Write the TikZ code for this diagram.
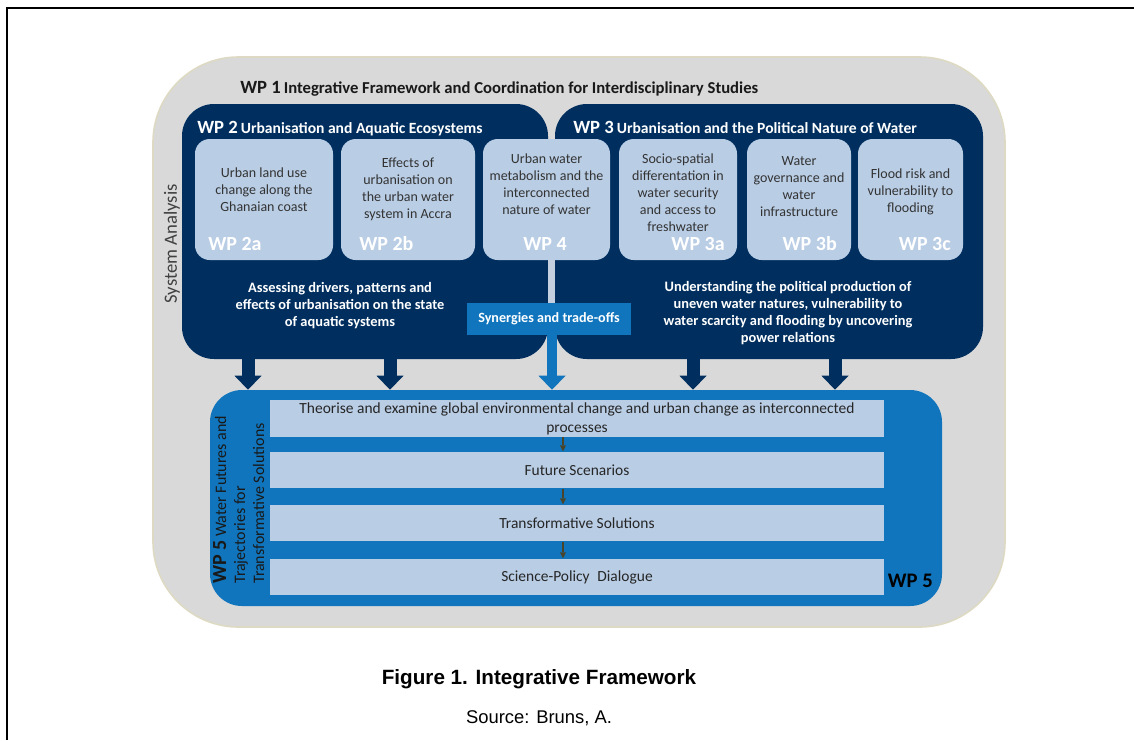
\documentclass[tikz,border=0pt]{standalone}
\usepackage{fontspec}
\setmainfont{Carlito}
\newfontfamily\capfont{Liberation Sans}
\usetikzlibrary{arrows.meta}
\definecolor{wpnavy}{HTML}{002F5F}
\definecolor{wpblue}{HTML}{1075BD}
\definecolor{wplight}{HTML}{B9CDE5}
\definecolor{wpgray}{HTML}{D9D9D9}
\definecolor{wpbeige}{HTML}{DDD9C3}
\definecolor{wpolive}{HTML}{4A452A}
\definecolor{wplink}{HTML}{C4D0E0}
\tikzset{
  wpframe/.style={rectangle,rounded corners=24pt,fill=wpnavy,inner sep=0pt},
  subbox/.style={rectangle,rounded corners=11pt,fill=wplight,inner sep=0pt,minimum height=90.75pt},
  boxtext/.style={align=center,text=black!80,inner sep=0pt,font=\fontsize{10.5}{12.75}\selectfont},
  wplabel/.style={text=white,inner sep=0pt,font=\fontsize{15}{17}\selectfont\bfseries},
  wptitle/.style={inner sep=0pt,anchor=base west},
  goaltext/.style={align=center,text=white,inner sep=0pt,font=\fontsize{10.8}{12.75}\selectfont\bfseries},
  rowbox/.style={rectangle,fill=wplight,inner sep=0pt,minimum width=460.5pt,minimum height=27.5pt,align=center,text=black!85,font=\fontsize{11.6}{14.25}\selectfont},
  bigarrow/.style={draw=wpnavy,line width=9.75pt,-{Triangle[width=20.25pt,length=10.5pt,line width=0pt]}},
  smallarrow/.style={draw=wpolive,line width=1.1pt,-{Triangle[width=4.5pt,length=4.5pt,line width=0pt]}}
}
\begin{document}
\begin{tikzpicture}[x=0.75pt,y=-0.75pt]
  \useasboundingbox (0,0) rectangle (1134,740);
  \draw[line width=1.5pt] (7,740) -- (7,8) -- (1134,8);
  \node[rectangle,rounded corners=64pt,fill=wpgray,draw=wpbeige,line width=1.2pt,minimum width=639pt,minimum height=427.5pt] (wp1) at (579,342) {};
  \node[wptitle,text=black!90] at (240,93) {{\fontsize{14}{16}\selectfont\bfseries WP 1} {\fontsize{12.5}{14}\selectfont\bfseries Integrative Framework and Coordination for Interdisciplinary Studies}};
  \node[rotate=90,text=black!75,font=\fontsize{14}{16}\selectfont] (sysan) at (172,244) {System Analysis};
  \node[wpframe,minimum width=274.5pt,minimum height=191.25pt] (wp2) at (365,231.5) {};
  \node[wpframe,minimum width=321pt,minimum height=191.25pt] (wp3) at (769,231.5) {};
  \node[wptitle,text=white] at (197,133) {{\fontsize{14}{16}\selectfont\bfseries WP 2} {\fontsize{11.7}{13}\selectfont\bfseries Urbanisation and Aquatic Ecosystems}};
  \node[wptitle,text=white] at (573,133) {{\fontsize{14}{16}\selectfont\bfseries WP 3} {\fontsize{11.7}{13}\selectfont\bfseries Urbanisation and the Political Nature of Water}};
  \node[subbox,minimum width=103.5pt] (wp2a) at (264,199.5) {};
  \node[subbox,minimum width=100.5pt] (wp2b) at (408,199.5) {};
  \node[subbox,minimum width=95.25pt] (wp4) at (546.5,199.5) {};
  \node[subbox,minimum width=88.5pt] (wp3a) at (678,199.5) {};
  \node[subbox,minimum width=78pt] (wp3b) at (799,199.5) {};
  \node[subbox,minimum width=78.75pt] (wp3c) at (910.5,199.5) {};
  \node[boxtext] at (264,190) {Urban land use\\change along the\\Ghanaian coast};
  \node[boxtext] at (408,189) {Effects of\\urbanisation on\\the urban water\\system in Accra};
  \node[boxtext] at (546.5,184) {Urban water\\metabolism and the\\interconnected\\nature of water};
  \node[boxtext] at (678,193) {Socio-spatial\\differentation in\\water security\\and access to\\freshwater};
  \node[boxtext] at (799,186.5) {Water\\governance and\\water\\infrastructure};
  \node[boxtext] at (910.5,192) {Flood risk and\\vulnerability to\\flooding};
  \node[wplabel,anchor=base west] at (208,250) {WP 2a};
  \node[wplabel,anchor=base west] at (359,250) {WP 2b};
  \node[wplabel,anchor=base east] at (567,250) {WP 4};
  \node[wplabel,anchor=base east] at (725,250) {WP 3a};
  \node[wplabel,anchor=base east] at (837,250) {WP 3b};
  \node[wplabel,anchor=base east] at (951,250) {WP 3c};
  \node[goaltext] at (340,306) {Assessing drivers, patterns and\\effects of urbanisation on the state\\of aquatic systems};
  \node[goaltext] at (788,313) {Understanding the political production of\\uneven water natures, vulnerability to\\water scarcity and flooding by uncovering\\power relations};
  \node[rectangle,fill=wpblue,inner sep=0pt,minimum width=123pt,minimum height=24pt,text=white,font=\fontsize{10.6}{12.75}\selectfont\bfseries] (syn) at (549,319) {Synergies and trade-offs};
  \draw[draw=wplink,line width=5.25pt] (551,0 |- wp4.south) -- (551,0 |- syn.north);
  \node[rectangle,rounded corners=24pt,fill=wpblue,inner sep=0pt,minimum width=549pt,minimum height=162pt] (wp5) at (576,498) {};
  \draw[bigarrow] (248,0 |- wp2.south) -- (248,0 |- wp5.north);
  \draw[bigarrow] (390,0 |- wp2.south) -- (390,0 |- wp5.north);
  \draw[bigarrow] (693,0 |- wp3.south) -- (693,0 |- wp5.north);
  \draw[bigarrow] (835,0 |- wp3.south) -- (835,0 |- wp5.north);
  \draw[bigarrow,draw=wpblue,line width=7.5pt] (552,0 |- syn.south) -- (552,0 |- wp5.north);
  \node[rowbox] (theory) at (577,418.5) {Theorise and examine global environmental change and urban change as interconnected\\processes};
  \node[rowbox] (future) at (577,470) {Future Scenarios};
  \node[rowbox] (trans) at (577,523) {Transformative Solutions};
  \node[rowbox] (dialog) at (577,577) {Science-Policy\enspace Dialogue};
  \draw[smallarrow] (563,0 |- theory.south) -- (563,0 |- future.north);
  \draw[smallarrow] (563,0 |- future.south) -- (563,0 |- trans.north);
  \draw[smallarrow] (563,0 |- trans.south) -- (563,0 |- dialog.north);
  \node[rotate=90,anchor=north west,inner sep=0pt,align=left,text=black!90,font=\fontsize{12}{14.25}\selectfont] (wp5title) at (213,584) {{\fontsize{15}{15}\selectfont\bfseries WP 5} Water Futures and\\Trajectories for\\Transformative Solutions};
  \node[anchor=base east,inner sep=0pt,text=black,font=\fontsize{15.5}{18}\selectfont\bfseries] at (933,587) {WP 5};
  \node[anchor=base,inner sep=0pt,font=\capfont\fontsize{15.5}{18}\selectfont\bfseries] (caption) at (539,684) {Figure 1. Integrative Framework};
  \node[anchor=base,inner sep=0pt,font=\capfont\fontsize{13.8}{16}\selectfont] (source) at (539,723) {Source: Bruns, A.};
\end{tikzpicture}
\end{document}
